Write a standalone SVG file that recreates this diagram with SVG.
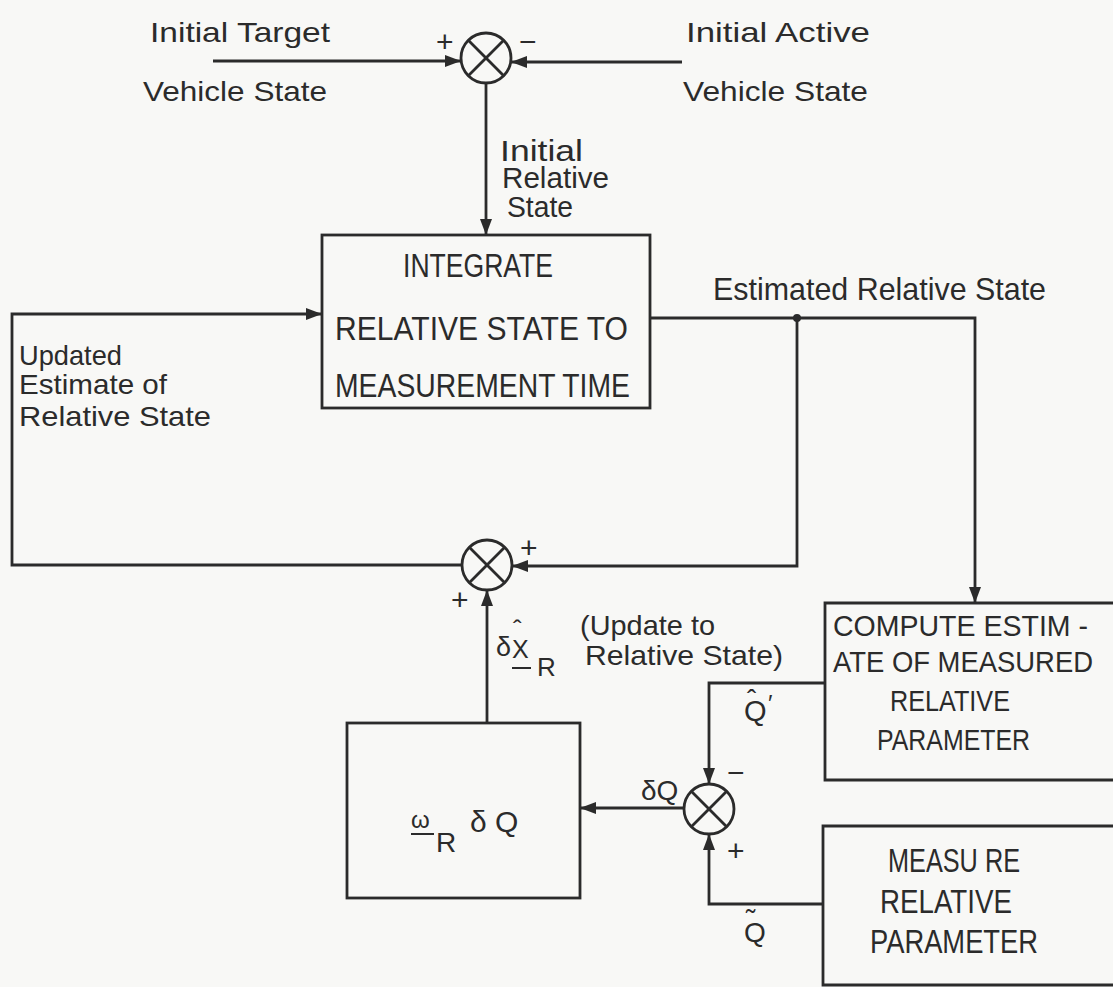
<svg xmlns="http://www.w3.org/2000/svg" width="1113" height="987" viewBox="0 0 1113 987">
<defs>
<style>
.bg{fill:#f8f8f6}
.ln{fill:none;stroke:#2b2b2b;stroke-width:2.8}
.bx{fill:none;stroke:#2b2b2b;stroke-width:2.8}
.sum{fill:none;stroke:#2b2b2b;stroke-width:2.8}
text{font-family:"Liberation Sans","DejaVu Sans",sans-serif;fill:#2b2b2b}
.t28{font-size:28px}
.t30{font-size:30px}
.t32{font-size:32px}
.t33{font-size:33px}
.sg{font-size:30px}
</style>
<marker id="ah" viewBox="0 0 16 12" refX="16" refY="6" markerWidth="16" markerHeight="12" markerUnits="userSpaceOnUse" orient="auto">
<path d="M0,0 L16,6 L0,12 Z" fill="#2b2b2b"/>
</marker>
<g id="sj">
<circle cx="0" cy="0" r="25" class="sum"/>
<line x1="-17.7" y1="-17.7" x2="17.7" y2="17.7" class="sum"/>
<line x1="-17.7" y1="17.7" x2="17.7" y2="-17.7" class="sum"/>
</g>
</defs>
<rect width="1113" height="987" class="bg"/>

<g id="connectors">
<line x1="213" y1="61" x2="461" y2="61" class="ln" marker-end="url(#ah)"/>
<line x1="682" y1="62" x2="511" y2="62" class="ln" marker-end="url(#ah)"/>
<line x1="486" y1="83" x2="486" y2="235" class="ln" marker-end="url(#ah)"/>
<polyline points="650,318 975,318 975,603" class="ln" marker-end="url(#ah)"/>
<circle cx="797" cy="318" r="4" fill="#2b2b2b"/>
<polyline points="797,318 797,566 512,566" class="ln" marker-end="url(#ah)"/>
<polyline points="462,565 12,565 12,314 322,314" class="ln" marker-end="url(#ah)"/>
<line x1="487" y1="723" x2="487" y2="590" class="ln" marker-end="url(#ah)"/>
<polyline points="825,683 709,683 709,784" class="ln" marker-end="url(#ah)"/>
<line x1="684" y1="808" x2="580" y2="808" class="ln" marker-end="url(#ah)"/>
<polyline points="823,904 709,904 709,834" class="ln" marker-end="url(#ah)"/>
</g>

<g id="sum-top">
<use href="#sj" x="486" y="58"/>
<text x="436" y="52" class="sg">+</text>
<text x="519" y="52" class="sg">−</text>
</g>

<g id="sum-mid">
<use href="#sj" x="487" y="565"/>
<text x="520" y="558" class="sg">+</text>
<text x="451" y="610" class="sg">+</text>
</g>

<g id="sum-low">
<use href="#sj" x="709" y="809"/>
<text x="727" y="783" class="sg">−</text>
<text x="727" y="861" class="sg">+</text>
</g>

<g id="labels-top">
<text x="150" y="42" class="t28" textLength="180" lengthAdjust="spacingAndGlyphs">Initial Target</text>
<text x="143" y="101" class="t28" textLength="184" lengthAdjust="spacingAndGlyphs">Vehicle State</text>
<text x="686" y="42" class="t28" textLength="184" lengthAdjust="spacingAndGlyphs">Initial Active</text>
<text x="683" y="101" class="t28" textLength="185" lengthAdjust="spacingAndGlyphs">Vehicle State</text>
<text x="500" y="161" class="t30" textLength="83" lengthAdjust="spacingAndGlyphs">Initial</text>
<text x="502" y="188" class="t30" textLength="107" lengthAdjust="spacingAndGlyphs">Relative</text>
<text x="507" y="217" class="t30" textLength="66" lengthAdjust="spacingAndGlyphs">State</text>
</g>

<g id="integrate">
<rect x="322" y="235" width="328" height="173" class="bx"/>
<text x="403" y="277" class="t33" textLength="150" lengthAdjust="spacingAndGlyphs">INTEGRATE</text>
<text x="335" y="340" class="t33" textLength="293" lengthAdjust="spacingAndGlyphs">RELATIVE STATE TO</text>
<text x="335" y="397" class="t33" textLength="295" lengthAdjust="spacingAndGlyphs">MEASUREMENT TIME</text>
</g>

<g id="labels-mid">
<text x="713" y="300" class="t32" textLength="333" lengthAdjust="spacingAndGlyphs">Estimated Relative State</text>
<text x="19" y="365" class="t28" textLength="103" lengthAdjust="spacingAndGlyphs">Updated</text>
<text x="19" y="394" class="t28" textLength="148" lengthAdjust="spacingAndGlyphs">Estimate of</text>
<text x="19" y="426" class="t28" textLength="192" lengthAdjust="spacingAndGlyphs">Relative State</text>
<text x="580" y="635" class="t28" textLength="135" lengthAdjust="spacingAndGlyphs">(Update to</text>
<text x="585" y="665" class="t28" textLength="198" lengthAdjust="spacingAndGlyphs">Relative State)</text>
</g>

<g id="dx-label">
<text x="496" y="656" style="font-size:27px">δ</text>
<text x="512" y="658" style="font-size:25px">X</text>
<text x="513" y="638" style="font-size:26px">ˆ</text>
<line x1="512" y1="668" x2="531" y2="668" class="ln" style="stroke-width:2"/>
<text x="537" y="676" style="font-size:26px">R</text>
</g>

<g id="compute">
<polyline points="1113,603 825,603 825,780 1113,780" class="bx"/>
<text x="833" y="636" class="t30" textLength="255" lengthAdjust="spacingAndGlyphs">COMPUTE ESTIM -</text>
<text x="833" y="672" class="t30" textLength="260" lengthAdjust="spacingAndGlyphs">ATE OF MEASURED</text>
<text x="890" y="711" class="t30" textLength="120" lengthAdjust="spacingAndGlyphs">RELATIVE</text>
<text x="877" y="750" class="t30" textLength="153" lengthAdjust="spacingAndGlyphs">PARAMETER</text>
</g>

<g id="qhat-label">
<text x="744" y="721" style="font-size:29px">Q</text>
<text x="747" y="709" style="font-size:28px">ˆ</text>
<text x="768" y="712" style="font-size:24px">′</text>
</g>

<g id="omega">
<rect x="347" y="723" width="233" height="175" class="bx"/>
<text x="411" y="828" style="font-size:24px">ω</text>
<line x1="411" y1="834" x2="434" y2="834" class="ln" style="stroke-width:2"/>
<text x="436" y="852" style="font-size:28px">R</text>
<text x="470" y="832" style="font-size:30px">δ</text>
<text x="495" y="832" style="font-size:30px">Q</text>
</g>

<g id="dq-label">
<text x="641" y="800" style="font-size:28px">δQ</text>
</g>

<g id="measure">
<polyline points="1113,826 823,826 823,985 1113,985" class="bx"/>
<text x="888" y="872" class="t33" textLength="132" lengthAdjust="spacingAndGlyphs">MEASU RE</text>
<text x="880" y="913" class="t33" textLength="132" lengthAdjust="spacingAndGlyphs">RELATIVE</text>
<text x="870" y="953" class="t33" textLength="168" lengthAdjust="spacingAndGlyphs">PARAMETER</text>
</g>

<g id="qtilde-label">
<text x="744" y="942" style="font-size:28px">Q</text>
<text x="746" y="929" style="font-size:28px">˜</text>
</g>
</svg>
